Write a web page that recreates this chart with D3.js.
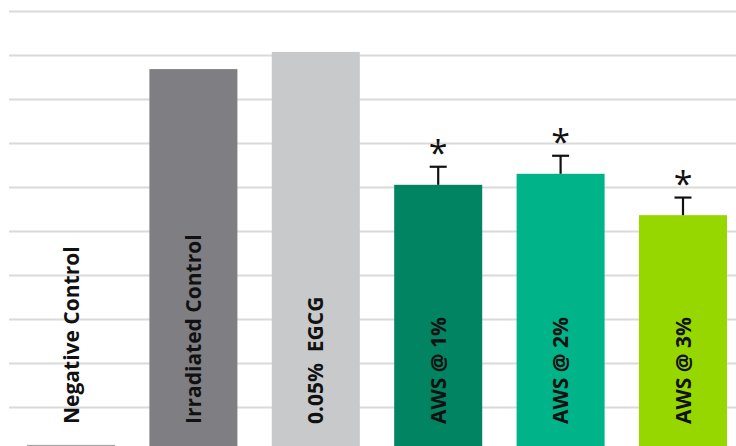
<!DOCTYPE html>
<html>
<head>
<meta charset="utf-8">
<script src="https://cdn.jsdelivr.net/npm/d3@7"></script>
<style>
  html, body { margin: 0; padding: 0; background: #fff; }
  svg { display: block; }
  .label { font-family: "Open Sans", sans-serif; font-weight: 700; font-size: 21px; fill: #111; }
  .star { font-family: "Open Sans", sans-serif; font-weight: 400; font-size: 34px; fill: #111; }
</style>
</head>
<body>
<div id="chart"></div>
<script>
// values (0-100 scale, gridline every 10)
const categories = ["Negative Control", "Irradiated Control", "0.05%\u00a0\u00a0EGCG", "AWS @ 1%", "AWS @ 2%", "AWS @ 3%"];
const values = [1.4, 86.8, 90.7, 60.5, 63.0, 53.6];
const errors = [null, null, null, 4.1, 4.1, 4.0];
const significant = [false, false, false, true, true, true];
const colors = ["#a7a7a9", "#7f7f83", "#c8c9cb", "#008461", "#00b388", "#97d700"];
const gridTicks = [10, 20, 30, 40, 50, 60, 70, 80, 90, 100];

(function () {
  let width = 736,
    height = 446;

  let svg = d3.select("#chart")
    .append("svg")
    .attr("width", width)
    .attr("height", height);

  let x = d3.scaleBand()
    .domain(categories)
    .range([27, 727])
    .paddingInner(0.281)
    .paddingOuter(0);

  let y = d3.scaleLinear()
    .domain([0, 100])
    .range([451, 11]);

  // gridlines
  let grid = svg.append("g")
    .attr("transform", "translate(9,0)")
    .call(d3.axisLeft(y).tickValues(gridTicks).tickSize(-(width - 9)).tickFormat(""));
  grid.select(".domain").remove();
  grid.selectAll(".tick line")
    .attr("stroke", "#dadada")
    .attr("stroke-width", 2);

  let data = categories.map((c, i) => ({ name: c, value: values[i], err: errors[i], sig: significant[i], color: colors[i] }));

  svg.append("g")
    .selectAll("rect")
    .data(data)
    .enter()
    .append("rect")
    .attr("x", d => x(d.name))
    .attr("y", d => y(d.value))
    .attr("width", x.bandwidth())
    .attr("height", d => y(0) - y(d.value))
    .attr("fill", d => d.color);

  // error bars (upper half only)
  let withErr = data.filter(d => d.err != null);
  let eb = svg.append("g")
    .attr("stroke", "#111")
    .attr("stroke-width", 2.2);
  eb.selectAll(".stem")
    .data(withErr)
    .enter()
    .append("line")
    .attr("x1", d => x(d.name) + x.bandwidth() / 2)
    .attr("x2", d => x(d.name) + x.bandwidth() / 2)
    .attr("y1", d => y(d.value))
    .attr("y2", d => y(d.value + d.err));
  eb.selectAll(".cap")
    .data(withErr)
    .enter()
    .append("line")
    .attr("x1", d => x(d.name) + x.bandwidth() / 2 - 8.5)
    .attr("x2", d => x(d.name) + x.bandwidth() / 2 + 8.5)
    .attr("y1", d => y(d.value + d.err))
    .attr("y2", d => y(d.value + d.err));

  // significance stars
  svg.append("g")
    .selectAll("text")
    .data(data.filter(d => d.sig))
    .enter()
    .append("text")
    .attr("class", "star")
    .attr("text-anchor", "middle")
    .attr("x", d => x(d.name) + x.bandwidth() / 2)
    .attr("y", d => y(d.value + d.err) - 2)
    .text("*");

  // rotated category labels
  svg.append("g")
    .selectAll("text")
    .data(data)
    .enter()
    .append("text")
    .attr("class", "label")
    .attr("transform", d => `translate(${x(d.name) + x.bandwidth() / 2}, 424) rotate(-90)`)
    .attr("dy", "0.36em")
    .text(d => d.name);
})();
</script>
</body>
</html>
